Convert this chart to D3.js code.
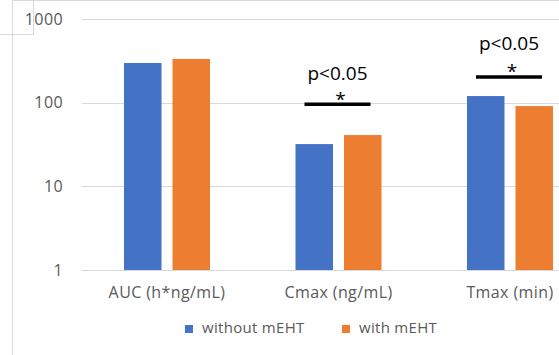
<!DOCTYPE html>
<html><head><meta charset="utf-8">
<script src="https://cdn.jsdelivr.net/npm/d3@7"></script>
<style>body{margin:0;background:#fff}svg{display:block}text{font-family:"Open Sans",sans-serif}</style>
</head><body>
<script>
const categories = ["AUC (h*ng/mL)", "Cmax (ng/mL)", "Tmax (min)"];
const seriesNames = ["without mEHT", "with mEHT"];
const withoutValues = [298, 32, 120];
const withValues = [333, 41, 91];
const tickValues = [1, 10, 100, 1000];
const sigLabels = [null, "p<0.05", "p<0.05"];
const sigLineValues = [null, 96, 203];
const colors = ["#4472C4", "#ED7D31"];

const W = 559, H = 355;
const svg = d3.select("body").append("svg").attr("width", W).attr("height", H);

// frame lines
svg.append("line").attr("x1",12.5).attr("x2",12.5).attr("y1",0).attr("y2",H).attr("stroke","#d9d9d9");
svg.append("line").attr("x1",12).attr("x2",W).attr("y1",0.5).attr("y2",0.5).attr("stroke","#d9d9d9");
svg.append("line").attr("x1",33.5).attr("x2",33.5).attr("y1",0).attr("y2",35).attr("stroke","#d9d9d9");
svg.append("line").attr("x1",0).attr("x2",34).attr("y1",34.5).attr("y2",34.5).attr("stroke","#d9d9d9");

const y = d3.scaleLog().domain([1, 1000]).range([270, 19]);
const x = d3.scaleBand().domain(categories).range([82, 595]).paddingInner(0.4985).paddingOuter(0.245);
const xs = d3.scaleBand().domain(seriesNames).range([0, x.bandwidth()]).paddingInner(0.227);

// gridlines
svg.append("g").selectAll("line").data(tickValues).join("line")
  .attr("x1", 82).attr("x2", W).attr("y1", d => Math.round(y(d)) + 0.5).attr("y2", d => Math.round(y(d)) + 0.5)
  .attr("stroke", "#d9d9d9").attr("stroke-width", 1);

const yAxis = d3.axisLeft(y).tickValues(tickValues).tickFormat(d3.format("d")).tickSize(0).tickPadding(0);
const ya = svg.append("g").attr("transform", "translate(63,0)").call(yAxis);
ya.select(".domain").remove();
ya.selectAll("text").attr("fill", "#595959").style("font-size", "16px").style("letter-spacing", "0.4px")
  .style("font-family", "'Open Sans',sans-serif");

const series = [withoutValues, withValues];
series.forEach((vals, si) => {
  svg.append("g").selectAll("rect").data(vals).join("rect")
    .attr("x", (d, i) => x(categories[i]) + xs(seriesNames[si]))
    .attr("y", d => y(d))
    .attr("width", xs.bandwidth())
    .attr("height", d => y(1) - y(d))
    .attr("fill", colors[si]);
});

const xAxis = d3.axisBottom(x).tickSize(0).tickPadding(0);
const xa = svg.append("g").attr("transform", "translate(0,287)").call(xAxis);
xa.select(".domain").remove();
xa.selectAll("text").attr("fill", "#595959").style("font-size", "16px").style("letter-spacing", "0.4px")
  .style("font-family", "'Open Sans',sans-serif");

// significance
const textGap = [0, 24, 27];
categories.forEach((c, i) => {
  if (!sigLabels[i]) return;
  const cx = x(c) + x.bandwidth() / 2;
  const lineY = y(sigLineValues[i]);
  const g = svg.append("g");
  g.append("line").attr("x1", cx - 34).attr("x2", cx + 32).attr("y1", lineY).attr("y2", lineY)
    .attr("stroke", "#000").attr("stroke-width", 3.5);
  g.append("text").attr("text-anchor", "middle").attr("fill", "#000")
    .attr("x", cx - 1).attr("y", lineY - textGap[i]).style("font-size", "19px").text(sigLabels[i]);
  g.append("text").attr("text-anchor", "middle").attr("fill", "#000")
    .attr("x", cx + 2).attr("y", lineY + 1.5).style("font-size", "19px").text("*");
});

// legend
const legX = [185, 342];
seriesNames.forEach((n, i) => {
  svg.append("rect").attr("x", legX[i]).attr("y", 325).attr("width", 8).attr("height", 8).attr("fill", colors[i]);
  svg.append("text").attr("x", legX[i] + 17).attr("y", 333).attr("fill", "#595959")
    .style("font-size", "15px").style("letter-spacing", "0.3px").text(n);
});
</script>
</body></html>
